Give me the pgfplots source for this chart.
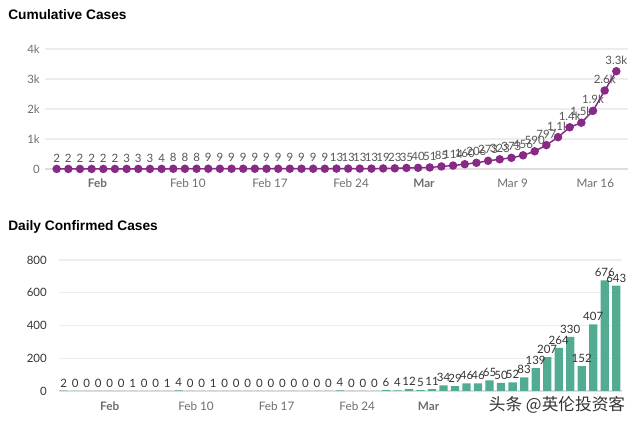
\documentclass[border=0pt]{standalone}
\usepackage{pgfplots}
\pgfplotsset{compat=1.18}
\usepackage{pgfplotstable}
\usepackage{fontspec}
\setmainfont{Lato}
\newfontfamily\titlefont{Liberation Sans}
\newfontfamily\cjk{Noto Sans CJK SC}
\definecolor{purp}{HTML}{862A86}
\definecolor{teal}{HTML}{52AB93}
\definecolor{gridc}{HTML}{EDEDED}
\definecolor{basec}{HTML}{DDDDDD}
\definecolor{labc}{HTML}{555555}
\definecolor{tickc}{HTML}{6E6E6E}
\definecolor{darkc}{HTML}{333333}

\pgfplotstableread{
i v lab
0 2 2
1 2 2
2 2 2
3 2 2
4 2 2
5 2 2
6 3 3
7 3 3
8 3 3
9 4 4
10 8 8
11 8 8
12 8 8
13 9 9
14 9 9
15 9 9
16 9 9
17 9 9
18 9 9
19 9 9
20 9 9
21 9 9
22 9 9
23 9 9
24 13 13
25 13 13
26 13 13
27 13 13
28 19 19
29 23 23
30 35 35
31 40 40
32 51 51
33 85 85
34 114 114
35 160 160
36 206 206
37 273 273
38 323 323
39 373 373
40 456 456
41 590 590
42 797 797
43 1061 1.1k
44 1391 1.4k
45 1543 1.5k
46 1940 1.9k
47 2616 2.6k
48 3259 3.3k
}\cumtable

\pgfplotstableread{
i v lab
0 2 2
1 0 0
2 0 0
3 0 0
4 0 0
5 0 0
6 1 1
7 0 0
8 0 0
9 1 1
10 4 4
11 0 0
12 0 0
13 1 1
14 0 0
15 0 0
16 0 0
17 0 0
18 0 0
19 0 0
20 0 0
21 0 0
22 0 0
23 0 0
24 4 4
25 0 0
26 0 0
27 0 0
28 6 6
29 4 4
30 12 12
31 5 5
32 11 11
33 34 34
34 29 29
35 46 46
36 46 46
37 65 65
38 50 50
39 52 52
40 83 83
41 139 139
42 207 207
43 264 264
44 330 330
45 152 152
46 407 407
47 676 676
48 643 643
}\dailytable

\begin{document}
\begin{tikzpicture}
\useasboundingbox (0,0) rectangle (480pt,318.75pt);
\node[anchor=west, font=\titlefont\bfseries\fontsize{10.3}{12}\selectfont, inner sep=0pt] at (6pt,307.5pt) {Cumulative Cases};
\node[anchor=west, font=\titlefont\bfseries\fontsize{10.3}{12}\selectfont, inner sep=0pt] at (6pt,148.7pt) {Daily Confirmed Cases};

\begin{axis}[
  at={(33.75pt,192pt)}, anchor=south west,
  scale only axis, width=437.25pt, height=90pt,
  xmin=-1, xmax=49, ymin=0, ymax=4000,
  clip=false,
  axis line style={draw=none}, tick style={draw=none},
  ymajorgrids, grid style={gridc, line width=0.8pt},
  ytick={0,1000,2000,3000,4000}, yticklabels={0,1k,2k,3k,4k},
  scaled y ticks=false,
  yticklabel style={font=\fontsize{8.6}{10}\selectfont, text=tickc, inner sep=0pt, xshift=-3.75pt},
  xtick={3.5,11.25,18.3,25.25,31.5,39.1,46.2},
  xticklabels={\textbf{Feb},Feb 10,Feb 17,Feb 24,\textbf{Mar},Mar 9,Mar 16},
  xticklabel style={font=\fontsize{8.8}{10}\selectfont, text=tickc, inner sep=0pt, yshift=-7pt},
]
\draw[basec, line width=0.8pt] (axis cs:-1,0) -- (axis cs:49,0);
\addplot[purp, line width=1.1pt, mark=*, mark size=2.6pt, mark options={fill=purp, draw=purp},
  point meta=explicit symbolic,
  nodes near coords,
  every node near coord/.append style={font=\fontsize{8.6}{10}\selectfont, text=labc, inner sep=0pt, anchor=south, yshift=4.5pt}]
  table[x=i, y=v, meta=lab] {\cumtable};
\end{axis}

\begin{axis}[
  at={(44.25pt,25.5pt)}, anchor=south west,
  scale only axis, width=422.25pt, height=98.25pt,
  xmin=-0.4, xmax=48.5, ymin=0, ymax=800,
  clip=false,
  axis line style={draw=none}, tick style={draw=none},
  ymajorgrids, grid style={gridc, line width=0.8pt},
  ytick={0,200,400,600,800},
  /pgf/number format/assume math mode=true,
  yticklabel style={font=\fontsize{8.6}{10}\selectfont, text=darkc, inner sep=0pt, xshift=-9pt},
  xtick={4,11.5,18.5,25.5,31.7},
  xticklabels={\textbf{Feb},Feb 10,Feb 17,Feb 24,\textbf{Mar}},
  xticklabel style={font=\fontsize{8.8}{10}\selectfont, text=tickc, inner sep=0pt, yshift=-8pt},
]
\draw[basec, line width=0.8pt] (axis cs:-0.4,0) -- (axis cs:48.5,0);
\addplot[ybar, bar width=6.2pt, fill=teal, draw=none,
  point meta=explicit symbolic,
  nodes near coords,
  every node near coord/.append style={font=\fontsize{8.6}{10}\selectfont, text=darkc, inner sep=0pt, anchor=south, yshift=2.5pt}]
  table[x=i, y=v, meta=lab] {\dailytable};
\end{axis}

\node[font=\cjk\fontsize{12.5}{14}\selectfont, text=darkc, inner sep=1pt] at (417.75pt,15pt) {头条 @英伦投资客};
\end{tikzpicture}
\end{document}
